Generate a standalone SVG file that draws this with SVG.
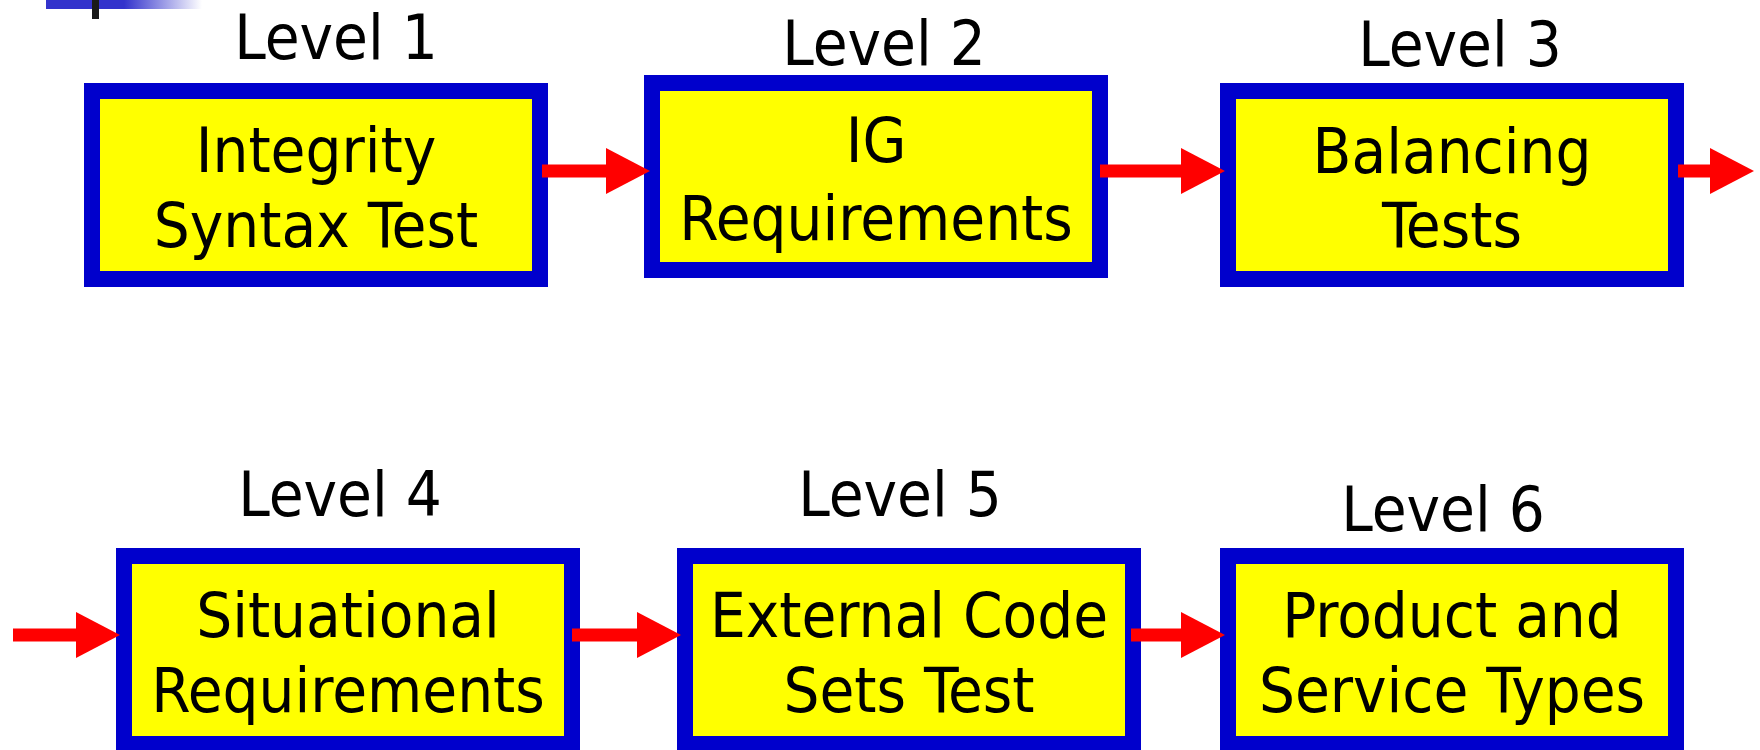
<svg xmlns="http://www.w3.org/2000/svg" width="1760" height="750" viewBox="0 0 1760 750">
  <defs>
    <linearGradient id="fade" x1="0" y1="0" x2="1" y2="0">
      <stop offset="0" stop-color="#3333CC"/>
      <stop offset="0.5" stop-color="#3333CC"/>
      <stop offset="1" stop-color="#FFFFFF"/>
    </linearGradient>
    <marker id="head" viewBox="0 0 44 46" refX="1" refY="23" markerWidth="44" markerHeight="46" markerUnits="userSpaceOnUse" orient="auto">
      <path d="M0,0 L44,23 L0,46 Z" fill="#FF0000"/>
    </marker>
  </defs>
  <style>
    .box { fill: #FFFF00; stroke: #0000CC; stroke-width: 16; }
    .t { font-family: "DejaVu Sans Condensed", "DejaVu Sans", sans-serif; font-size: 63px; fill: #000000; text-anchor: middle; }
    .arrow { stroke: #FF0000; stroke-width: 13; fill: none; marker-end: url(#head); }
  </style>
  <rect width="1760" height="750" fill="#FFFFFF"/>
  <g id="decoration">
    <rect x="46" y="0" width="156" height="9" fill="url(#fade)"/>
    <rect x="92" y="0" width="7" height="19" fill="#1A1A1A"/>
  </g>
  <g id="level1">
    <text class="t" x="336" y="59">Level 1</text>
    <rect class="box" x="92" y="91" width="448" height="188"/>
    <text class="t" x="316" y="172">Integrity</text>
    <text class="t" x="316" y="247">Syntax Test</text>
  </g>
  <g id="level2">
    <text class="t" x="884" y="65">Level 2</text>
    <rect class="box" x="652" y="83" width="448" height="187"/>
    <text class="t" x="876" y="162">IG</text>
    <text class="t" x="876" y="240">Requirements</text>
  </g>
  <g id="level3">
    <text class="t" x="1460" y="66">Level 3</text>
    <rect class="box" x="1228" y="91" width="448" height="188"/>
    <text class="t" x="1452" y="173">Balancing</text>
    <text class="t" x="1452" y="247">Tests</text>
  </g>
  <g id="level4">
    <text class="t" x="340" y="516">Level 4</text>
    <rect class="box" x="124" y="556" width="448" height="188"/>
    <text class="t" x="348" y="637">Situational</text>
    <text class="t" x="348" y="712">Requirements</text>
  </g>
  <g id="level5">
    <text class="t" x="900" y="516">Level 5</text>
    <rect class="box" x="685" y="556" width="448" height="188"/>
    <text class="t" x="909" y="637">External Code</text>
    <text class="t" x="909" y="712">Sets Test</text>
  </g>
  <g id="level6">
    <text class="t" x="1443" y="531">Level 6</text>
    <rect class="box" x="1228" y="556" width="448" height="188"/>
    <text class="t" x="1452" y="637">Product and</text>
    <text class="t" x="1452" y="712">Service Types</text>
  </g>
  <g id="connectors">
    <line class="arrow" x1="542" y1="171" x2="607" y2="171"/>
    <line class="arrow" x1="1100" y1="171" x2="1182" y2="171"/>
    <line class="arrow" x1="1678" y1="171" x2="1711" y2="171"/>
    <line class="arrow" x1="13" y1="635" x2="77" y2="635"/>
    <line class="arrow" x1="572" y1="635" x2="638" y2="635"/>
    <line class="arrow" x1="1131" y1="635" x2="1182" y2="635"/>
  </g>
</svg>
